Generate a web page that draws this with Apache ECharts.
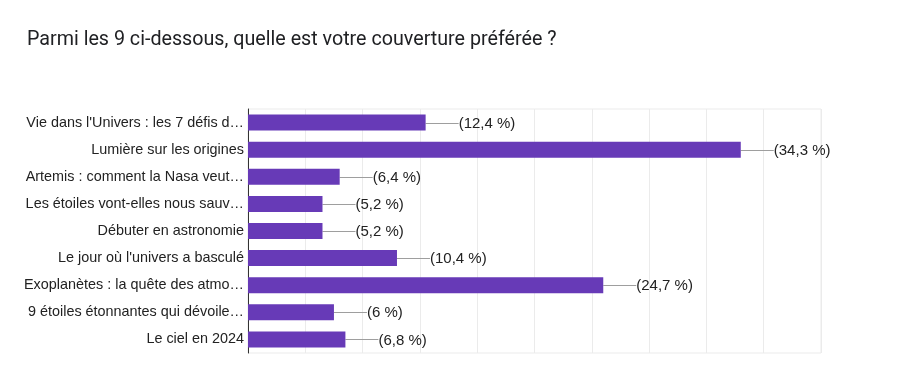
<!DOCTYPE html>
<html>
<head>
<meta charset="utf-8">
<script src="https://cdn.jsdelivr.net/npm/echarts@6/dist/echarts.min.js"></script>
<style>
html,body{margin:0;padding:0;background:#fff;}
#chart{width:900px;height:383px;}
</style>
</head>
<body>
<div id="chart"></div>
<script>
const titleText = "Parmi les 9 ci-dessous, quelle est votre couverture préférée ?";
const categories = [
  "Vie dans l'Univers : les 7 défis d…",
  "Lumière sur les origines",
  "Artemis : comment la Nasa veut…",
  "Les étoiles vont-elles nous sauv…",
  "Débuter en astronomie",
  "Le jour où l'univers a basculé",
  "Exoplanètes : la quête des atmo…",
  "9 étoiles étonnantes qui dévoile…",
  "Le ciel en 2024"
];
const counts = [31, 86, 16, 13, 13, 26, 62, 15, 17];
const pctLabels = ["(12,4 %)", "(34,3 %)", "(6,4 %)", "(5,2 %)", "(5,2 %)", "(10,4 %)", "(24,7 %)", "(6 %)", "(6,8 %)"];
const axisMin = 0, axisMax = 100, axisStep = 10;

const chart = echarts.init(document.getElementById('chart'), null, {renderer: 'canvas'});
chart.setOption({
  animation: false,
  backgroundColor: '#ffffff',
  title: {
    text: titleText,
    left: 22,
    top: 25,
    textStyle: {fontFamily: 'Roboto', fontSize: 19.7, fontWeight: 'normal', color: '#202124'}
  },
  grid: {left: 248, right: 79, top: 109, bottom: 30, show: true, borderColor: '#ebebeb', borderWidth: 1},
  xAxis: {
    type: 'value', min: axisMin, max: axisMax, interval: axisStep,
    axisLine: {show: false}, axisTick: {show: false}, axisLabel: {show: false},
    splitLine: {show: true, lineStyle: {color: '#ebebeb', width: 1}}
  },
  yAxis: {
    type: 'category', inverse: true, data: categories,
    axisLine: {show: true, lineStyle: {color: '#333333', width: 1}},
    axisTick: {show: false},
    axisLabel: {fontFamily: 'Liberation Sans', fontSize: 14.4, color: '#222222', margin: 4}
  },
  series: [
    {
      type: 'bar', data: counts, barCategoryGap: '41%',
      itemStyle: {color: '#673ab7'}
    },
    {
      type: 'custom',
      data: counts.map((c, i) => [c, i]),
      encode: {x: 0, y: 1},
      renderItem: function (params, api) {
        const p = api.coord([api.value(0), api.value(1)]);
        const idx = api.value(1);
        return {
          type: 'group',
          children: [
            {type: 'line', shape: {x1: p[0], y1: Math.round(p[1]) + 0.5, x2: p[0] + 33, y2: Math.round(p[1]) + 0.5},
             style: {stroke: '#9e9e9e', lineWidth: 1}},
            {type: 'text', style: {text: pctLabels[idx], x: p[0] + 33, y: p[1] + 1,
              verticalAlign: 'middle', align: 'left',
              font: '15px "Liberation Sans"', fill: '#222222'}}
          ]
        };
      }
    }
  ]
});
</script>
</body>
</html>
